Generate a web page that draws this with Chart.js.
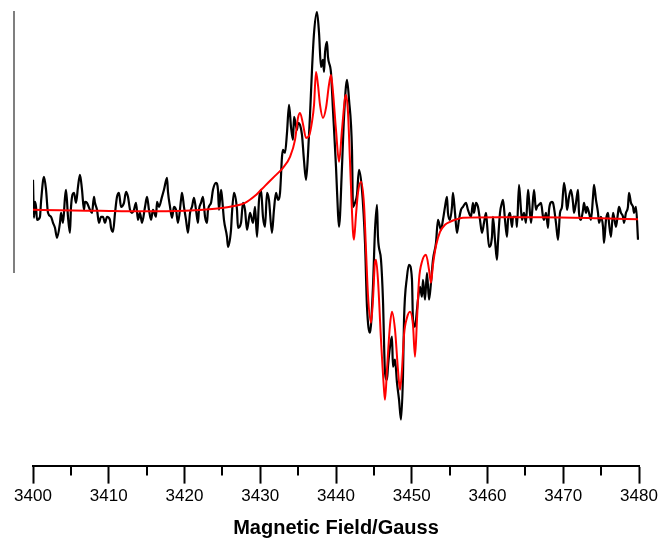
<!DOCTYPE html>
<html>
<head>
<meta charset="utf-8">
<script src="https://cdn.jsdelivr.net/npm/chart.js@4/dist/chart.umd.min.js"></script>
<style>
  html, body { margin: 0; padding: 0; background: #fff; }
  #wrap { position: relative; width: 659px; height: 538px; }
  #frame { position: absolute; left: 13px; top: 11px; width: 2px; height: 262px; background: #7f7f7f; }
</style>
</head>
<body>
<div id="wrap">
  <canvas id="c" width="659" height="538"></canvas>
  <div id="frame"></div>
</div>
<script>
// Field range and tick labels (Gauss)
const fieldMin = 3400;
const fieldMax = 3480;
const tickLabels = [3400, 3410, 3420, 3430, 3440, 3450, 3460, 3470, 3480];
const xTitle = 'Magnetic Field/Gauss';

// Experimental spectrum (black): [field (G), intensity (a.u.)]
const experimental = [
  [3400.00, 31], [3400.13, -7], [3400.26, 9], [3400.40, 4], [3400.53, -9], [3400.92, -6], [3401.06, 9],
  [3401.45, 34], [3401.72, 21], [3401.98, -2], [3402.38, -6], [3402.64, -12], [3402.90, -17], [3403.17, -27],
  [3403.56, -12], [3403.70, -2], [3403.96, -12], [3404.22, 13], [3404.36, 21], [3404.62, -6], [3404.88, -22],
  [3405.02, 4], [3405.41, 18], [3405.68, 8], [3405.94, 24], [3406.20, 36], [3406.47, 21], [3406.73, 1],
  [3406.86, 9], [3407.13, 8], [3407.52, 1], [3407.79, -2], [3408.05, 14], [3408.18, 8], [3408.45, 1],
  [3408.71, -12], [3408.98, -6], [3409.24, -6], [3409.50, -12], [3409.77, -6], [3410.16, -9], [3410.30, -17],
  [3410.56, -21], [3410.83, -2], [3411.09, 14], [3411.35, 18], [3411.62, 4], [3412.01, 8], [3412.28, 19],
  [3412.54, 14], [3412.81, 1], [3413.07, -2], [3413.33, 1], [3413.60, 8], [3413.86, -9], [3414.12, -2],
  [3414.39, -12], [3414.79, 4], [3415.05, 14], [3415.31, 1], [3415.58, -9], [3415.84, 1], [3416.24, -6],
  [3416.37, 9], [3416.63, 4], [3417.03, 14], [3417.29, 21], [3417.69, 33], [3417.82, 19], [3418.09, 4],
  [3418.35, -7], [3418.61, 4], [3418.88, 1], [3419.14, -12], [3419.54, 11], [3419.67, 18], [3419.93, 4],
  [3420.20, -9], [3420.46, -22], [3420.73, -2], [3420.99, 4], [3421.25, 13], [3421.52, 1], [3421.78, -12],
  [3421.91, 1], [3422.18, 8], [3422.44, 14], [3422.71, -6], [3422.97, -12], [3423.10, 1], [3423.50, 8],
  [3423.76, 21], [3424.16, 28], [3424.42, 21], [3424.55, 1], [3424.82, 21], [3424.95, 14], [3425.21, -9],
  [3425.61, -26], [3425.74, -36], [3426.14, -19], [3426.27, -2], [3426.53, 18], [3426.93, 1], [3427.06, -17],
  [3427.46, -12], [3427.72, 8], [3427.99, 1], [3428.25, -19], [3428.65, -2], [3429.04, -12], [3429.31, 4],
  [3429.57, -26], [3429.84, 11], [3430.10, 21], [3430.36, -6], [3430.63, -16], [3430.89, 18], [3431.15, 11],
  [3431.55, -22], [3431.81, 1], [3432.08, 18], [3432.34, 11], [3432.61, 18], [3432.87, 54], [3433.00, 61],
  [3433.27, 58], [3433.53, 78], [3433.80, 106], [3434.06, 84], [3434.32, 71], [3434.46, 94], [3434.85, 81],
  [3434.98, 88], [3435.25, 86], [3435.51, 76], [3435.77, 51], [3436.04, 31], [3436.30, 56], [3436.57, 96],
  [3436.83, 141], [3437.10, 178], [3437.49, 199], [3437.76, 178], [3438.02, 144], [3438.28, 151], [3438.42, 139],
  [3438.55, 158], [3438.81, 169], [3438.94, 154], [3439.34, 138], [3439.60, 101], [3440.00, 44], [3440.26, -2],
  [3440.40, -16], [3440.79, 44], [3441.06, 94], [3441.45, 131], [3441.72, 111], [3442.11, 61], [3442.24, 4],
  [3442.50, 8], [3442.77, 16], [3443.03, 41], [3443.43, 21], [3443.83, -32], [3444.09, -96], [3444.49, -122],
  [3444.88, -76], [3445.15, -19], [3445.41, 6], [3445.54, -26], [3445.94, -49], [3446.20, -89], [3446.47, -162],
  [3446.73, -169], [3446.86, -156], [3447.13, -136], [3447.39, -126], [3447.52, -156], [3447.79, -149],
  [3448.05, -172], [3448.32, -189], [3448.58, -209], [3448.84, -166], [3448.98, -109], [3449.37, -66],
  [3449.64, -54], [3450.03, -69], [3450.16, -109], [3450.43, -116], [3450.69, -99], [3450.82, -89],
  [3451.09, -76], [3451.35, -86], [3451.48, -69], [3451.75, -89], [3452.01, -62], [3452.28, -89], [3452.54, -72],
  [3452.80, -49], [3453.20, -32], [3453.46, -9], [3453.86, -19], [3454.12, -9], [3454.39, 4], [3454.65, 14],
  [3454.78, -2], [3455.05, -9], [3455.31, 4], [3455.44, 18], [3455.71, -2], [3455.97, -22], [3456.23, -9],
  [3456.50, 1], [3456.76, 4], [3457.16, 8], [3457.42, 1], [3457.82, -6], [3458.08, 8], [3458.21, -2],
  [3458.48, 8], [3458.74, 4], [3459.01, -9], [3459.27, -22], [3459.54, -12], [3459.80, -2], [3459.93, -12],
  [3460.20, -36], [3460.59, -26], [3460.72, -6], [3460.99, -29], [3461.25, -49], [3461.38, -32], [3461.65, -2],
  [3461.91, 8], [3462.05, 11], [3462.31, -9], [3462.57, -26], [3462.71, -9], [3462.97, -2], [3463.23, -16],
  [3463.37, -6], [3463.76, -6], [3463.89, -16], [3464.16, 26], [3464.42, 1], [3464.56, -9], [3464.82, -2],
  [3465.08, -12], [3465.35, 21], [3465.48, 11], [3465.74, -12], [3465.88, -2], [3466.14, 21], [3466.40, 1],
  [3466.54, 4], [3466.80, 6], [3467.06, 8], [3467.33, -6], [3467.46, -9], [3467.73, -2], [3467.99, -17],
  [3468.12, 1], [3468.51, 9], [3468.65, 8], [3469.04, -12], [3469.31, -29], [3469.57, -2], [3469.83, 4],
  [3470.10, 28], [3470.36, 14], [3470.50, 1], [3470.76, 14], [3471.02, 21], [3471.29, 8], [3471.42, -2],
  [3471.68, 8], [3471.95, 21], [3472.08, -2], [3472.34, -9], [3472.61, 1], [3472.74, 8], [3473.00, -2],
  [3473.14, 4], [3473.40, -2], [3473.66, -9], [3473.93, 14], [3474.06, 26], [3474.32, 11], [3474.59, -2],
  [3474.72, -12], [3474.98, -6], [3475.25, -16], [3475.38, -32], [3475.64, -9], [3475.91, -2], [3476.04, -12],
  [3476.30, -26], [3476.57, -2], [3476.70, -6], [3476.96, -16], [3477.23, -2], [3477.36, 4], [3477.62, -2],
  [3477.89, -6], [3478.02, -12], [3478.28, -2], [3478.54, 4], [3478.68, 18], [3478.94, 8], [3479.21, 4],
  [3479.34, -2], [3479.60, 4], [3479.87, -29]
];

// Simulated spectrum (red): [field (G), intensity (a.u.)]
const simulated = [
  [3400.00, 1], [3403.56, 0.5], [3408.84, 0], [3414.12, -0.5], [3420.07, 0], [3424.03, 2], [3426.01, 4],
  [3427.99, 8], [3429.31, 15], [3430.63, 25], [3431.95, 35], [3433.00, 43], [3433.93, 54], [3434.59, 71],
  [3434.98, 93], [3435.25, 98], [3435.64, 87], [3436.04, 73], [3436.44, 75], [3436.83, 89], [3437.10, 106],
  [3437.36, 139], [3437.62, 126], [3437.89, 106], [3438.28, 93], [3438.68, 103], [3439.07, 126], [3439.34, 136],
  [3439.60, 119], [3440.00, 81], [3440.40, 49], [3440.79, 81], [3441.19, 113], [3441.32, 116], [3441.58, 99],
  [3441.84, 51], [3442.24, -21], [3442.37, -29], [3442.64, -4], [3442.90, 18], [3443.30, 29], [3443.70, 6],
  [3443.96, -39], [3444.22, -84], [3444.62, -112], [3444.88, -89], [3445.15, -51], [3445.28, -49], [3445.54, -69],
  [3445.94, -129], [3446.34, -179], [3446.47, -189], [3446.73, -159], [3447.13, -114], [3447.39, -101],
  [3447.79, -119], [3448.18, -159], [3448.45, -179], [3448.71, -159], [3448.98, -124], [3449.37, -107],
  [3449.77, -101], [3450.16, -114], [3450.43, -146], [3450.69, -109], [3450.96, -69], [3451.35, -51],
  [3451.88, -44], [3452.28, -59], [3452.54, -72], [3452.80, -54], [3453.20, -35], [3453.73, -21], [3454.39, -14],
  [3455.05, -11], [3455.71, -9], [3456.76, -7], [3461.65, -6.5], [3466.93, -6.5], [3474.85, -7.5], [3479.87, -8.5]
];

const toPoints = arr => arr.map(p => ({ x: p[0], y: p[1] }));

const minorTicks = {
  id: 'minorTicks',
  afterDraw(chart) {
    const s = chart.scales.x;
    const ctx = chart.ctx;
    ctx.save();
    ctx.strokeStyle = '#000';
    ctx.lineWidth = 2;
    ctx.beginPath();
    s.ticks.forEach(t => {
      if (t.value % 10 !== 0) {
        const x = Math.round(s.getPixelForValue(t.value));
        ctx.moveTo(x, s.top);
        ctx.lineTo(x, s.top + 10);
      }
    });
    ctx.stroke();
    ctx.restore();
  }
};

new Chart(document.getElementById('c'), {
  type: 'line',
  data: {
    datasets: [
      {
        label: 'Simulated',
        data: toPoints(simulated),
        borderColor: '#ff0000',
        borderWidth: 2,
        pointRadius: 0,
        cubicInterpolationMode: 'monotone',
        fill: false
      },
      {
        label: 'Experimental',
        data: toPoints(experimental),
        borderColor: '#000000',
        borderWidth: 2.2,
        pointRadius: 0,
        cubicInterpolationMode: 'monotone',
        fill: false
      }
    ]
  },
  options: {
    responsive: false,
    animation: false,
    layout: { padding: { left: 33, right: 20, top: 0, bottom: 0 } },
    plugins: { legend: { display: false }, tooltip: { enabled: false } },
    scales: {
      x: {
        type: 'linear',
        min: fieldMin,
        max: fieldMax,
        afterBuildTicks(scale) {
          const t = [];
          for (let v = fieldMin; v <= fieldMax; v += 5) t.push({ value: v });
          scale.ticks = t;
        },
        afterFit(scale) {
          scale.paddingLeft = 0;
          scale.paddingRight = 0;
        },
        ticks: {
          autoSkip: false,
          maxRotation: 0,
          padding: 3,
          color: '#000',
          font: { family: 'Liberation Sans, Arial, sans-serif', size: 17 },
          callback: v => tickLabels.includes(v) ? String(v) : ''
        },
        grid: {
          drawOnChartArea: false,
          drawTicks: true,
          tickLength: 18,
          tickWidth: 2,
          tickColor: ctx => (ctx.tick && ctx.tick.value % 10 === 0) ? '#000' : 'rgba(0,0,0,0)'
        },
        border: { display: true, color: '#000', width: 2 },
        title: {
          display: true,
          text: xTitle,
          color: '#000',
          font: { family: 'Liberation Sans, Arial, sans-serif', size: 20, weight: 'bold', lineHeight: 1 },
          padding: { top: 8, bottom: 0 }
        }
      },
      y: {
        type: 'linear',
        display: false,
        min: -255,
        max: 211
      }
    }
  },
  plugins: [minorTicks]
});
</script>
</body>
</html>
